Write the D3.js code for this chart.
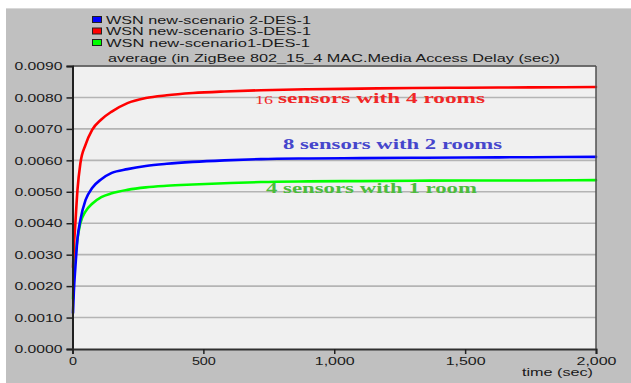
<!DOCTYPE html>
<html>
<head>
<meta charset="utf-8">
<script src="https://cdn.jsdelivr.net/npm/d3@7"></script>
<style>
  html, body { margin: 0; padding: 0; background: #ffffff; }
  svg { display: block; }
  text { font-family: "Liberation Sans", Arial, sans-serif; fill: #1a1a1a; }
  text.note, text.note-num { font-family: "Liberation Serif", "Times New Roman", serif; }
  text.note { font-weight: bold; }
</style>
</head>
<body>
<svg id="chart" width="631" height="383"></svg>
<script>
// Simulation time (sec) at which the running average was sampled
const times = [2, 5, 11, 19, 30, 50, 75, 110, 150, 210, 280, 360, 460, 580, 720, 900, 1100, 1300, 1500, 1750, 2000];

// Average MAC media access delay (sec) for each scenario
const scenario2 = [0.00115, 0.0018, 0.0026, 0.0035, 0.0041, 0.00474, 0.00512, 0.0054, 0.0056, 0.00572, 0.00582, 0.00589, 0.00595, 0.0060, 0.00604, 0.00606, 0.00607, 0.00608, 0.00609, 0.0061, 0.00611];
const scenario3 = [0.0026, 0.0032, 0.0040, 0.00506, 0.0059, 0.0065, 0.00697, 0.0073, 0.00755, 0.00782, 0.00798, 0.00807, 0.00814, 0.00819, 0.00823, 0.00826, 0.00828, 0.0083, 0.00831, 0.00832, 0.00833];
const scenario1 = [0.0016, 0.0023, 0.0029, 0.0035, 0.0040, 0.00438, 0.00462, 0.00483, 0.00495, 0.00506, 0.00514, 0.00519, 0.00523, 0.00527, 0.00531, 0.00533, 0.00534, 0.00535, 0.00536, 0.00536, 0.00537];

const seriesNames = ["WSN new-scenario 2-DES-1", "WSN new-scenario 3-DES-1", "WSN new-scenario1-DES-1"];
const seriesColors = ["#0000ff", "#ff0000", "#00ff00"];

const yTicks = [0, 0.001, 0.002, 0.003, 0.004, 0.005, 0.006, 0.007, 0.008, 0.009];
const xTicks = [0, 500, 1000, 1500, 2000];

const chartTitle = "average (in ZigBee 802_15_4 MAC.Media Access Delay (sec))";
const xLabel = "time (sec)";
const notes = [
  { small: "16", text: "sensors with 4 rooms", color: "#f02828" },
  { small: "", text: "8 sensors with 2 rooms", color: "#4646cc" },
  { small: "", text: "4 sensors with 1 room", color: "#4cbc3c" }
];

const svg = d3.select("#chart");
const W = 631, H = 383;
const plot = { left: 72.5, right: 596, top: 66, bottom: 349 };

// gray panel
svg.append("rect").attr("x", 6).attr("y", 8).attr("width", W - 6).attr("height", H - 8).attr("fill", "#c0c0c0");
svg.append("line").attr("x1", 6).attr("x2", W).attr("y1", 8.5).attr("y2", 8.5).attr("stroke", "#d8d8d8");

const x = d3.scaleLinear().domain([0, 2000]).range([plot.left, plot.right]);
const y = d3.scaleLinear().domain([0, 0.009]).range([plot.bottom, plot.top]);

// plot background
svg.append("rect")
  .attr("x", plot.left).attr("y", plot.top)
  .attr("width", plot.right - plot.left).attr("height", plot.bottom - plot.top)
  .attr("fill", "#f0f0f0");

// horizontal gridlines
svg.append("g").selectAll("line").data(yTicks.slice(1)).join("line")
  .attr("x1", plot.left).attr("x2", plot.right)
  .attr("y1", d => y(d)).attr("y2", d => y(d))
  .attr("stroke", "#b4b4b4").attr("stroke-width", 1.6);

// series lines
const line = d3.line().x((d, i) => x(times[i])).y(d => y(d)).curve(d3.curveMonotoneX);
const allSeries = [scenario2, scenario3, scenario1];
[2, 1, 0].forEach(k => {
  svg.append("path").datum(allSeries[k])
    .attr("d", line)
    .attr("fill", "none")
    .attr("stroke", seriesColors[k])
    .attr("stroke-width", 2.6)
    .attr("stroke-linejoin", "round")
    .attr("stroke-linecap", "round");
});

// frame
svg.append("line").attr("x1", plot.left).attr("x2", plot.right).attr("y1", plot.top).attr("y2", plot.top)
  .attr("stroke", "#505050").attr("stroke-width", 1.5);
svg.append("line").attr("x1", plot.right).attr("x2", plot.right).attr("y1", plot.top).attr("y2", plot.bottom)
  .attr("stroke", "#505050").attr("stroke-width", 1.5);

// y axis
const yAxis = d3.axisLeft(y).tickValues(yTicks).tickFormat(d3.format(".4f")).tickSize(6).tickPadding(4);
const gy = svg.append("g").attr("transform", `translate(${plot.left},0)`).call(yAxis);
gy.select(".domain").attr("stroke", "#202020").attr("stroke-width", 2);
gy.selectAll(".tick line").attr("stroke", "#202020").attr("stroke-width", 1.5);
gy.selectAll(".tick text")
  .attr("font-size", 11.5)
  .attr("textLength", 48)
  .attr("lengthAdjust", "spacingAndGlyphs")
  .attr("x", -10);

// x axis
const xAxis = d3.axisBottom(x).tickValues(xTicks).tickFormat(d3.format(",")).tickSize(5).tickPadding(3);
const gx = svg.append("g").attr("transform", `translate(0,${plot.bottom})`).call(xAxis);
gx.select(".domain").attr("stroke", "#303030").attr("stroke-width", 2);
gx.selectAll(".tick line").attr("stroke", "#202020").attr("stroke-width", 1.5);
gx.selectAll(".tick text")
  .attr("font-size", 11.5)
  .each(function(d) {
    const s = d3.format(",")(d);
    d3.select(this).attr("textLength", s.length * 8).attr("lengthAdjust", "spacingAndGlyphs");
  });

// x axis label
svg.append("text").attr("x", 593).attr("y", 376).attr("text-anchor", "end")
  .attr("font-size", 11.5).attr("textLength", 71).attr("lengthAdjust", "spacingAndGlyphs")
  .text(xLabel);

// chart title
svg.append("text").attr("x", 334).attr("y", 62).attr("text-anchor", "middle")
  .attr("font-size", 11.5).attr("textLength", 452).attr("lengthAdjust", "spacingAndGlyphs")
  .text(chartTitle);

// legend
const legend = svg.append("g");
seriesNames.forEach((name, i) => {
  const ly = 16 + i * 11.5;
  legend.append("rect").attr("x", 92.5).attr("y", ly + 0.5).attr("width", 9).attr("height", 6)
    .attr("fill", seriesColors[i]).attr("stroke", "#202020").attr("stroke-width", 1);
  legend.append("text").attr("x", 106).attr("y", ly + 7.5)
    .attr("font-size", 11.5).attr("textLength", i === 2 ? 204 : 205).attr("lengthAdjust", "spacingAndGlyphs")
    .text(name);
});

// scenario annotations
const noteLayout = [
  { sx: 255, sw: 18, x: 278, w: 207, y: 103 },
  { x: 283, w: 219, y: 149 },
  { x: 266, w: 211, y: 193 }
];
notes.forEach((n, i) => {
  const p = noteLayout[i];
  if (n.small) {
    svg.append("text").attr("class", "note-num").attr("x", p.sx).attr("y", p.y + 1)
      .attr("font-size", 13)
      .style("fill", n.color)
      .attr("textLength", p.sw).attr("lengthAdjust", "spacingAndGlyphs")
      .text(n.small);
  }
  svg.append("text").attr("class", "note").attr("x", p.x).attr("y", p.y)
    .attr("font-size", 14.5)
    .style("fill", n.color)
    .attr("textLength", p.w).attr("lengthAdjust", "spacingAndGlyphs")
    .text(n.text);
});
</script>
</body>
</html>
